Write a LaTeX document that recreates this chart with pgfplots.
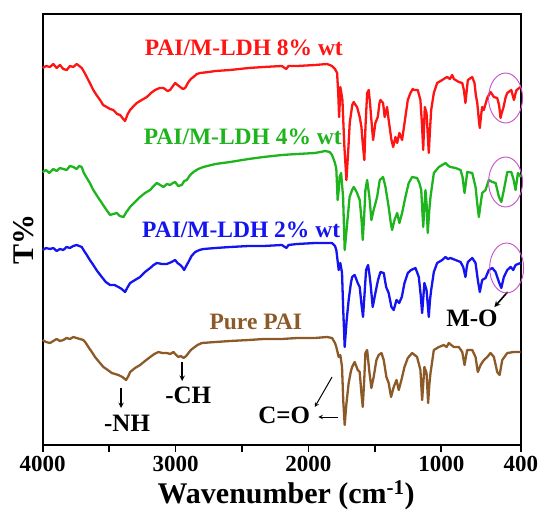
\documentclass[border=0pt]{standalone}
\usepackage{fontspec}
\setmainfont{Liberation Serif}
\usepackage{pgfplots}
\pgfplotsset{compat=1.18}
\usepackage{pgfplotstable}
\definecolor{cred}{RGB}{255,20,20}
\definecolor{cgreen}{RGB}{30,180,30}
\definecolor{cblue}{RGB}{20,20,240}
\definecolor{cbrown}{RGB}{140,90,40}
\definecolor{cmag}{RGB}{200,80,200}

\pgfplotstableread{
wn y
4000 377
3975 379
3945 378
3920 381
3895 377
3870 380
3845 376
3819 375
3795 379
3770 378
3744 381
3725 379
3706 377
3688 373
3668 368
3645 362
3619 355
3595 350
3568 345
3545 340
3518 338
3493 336
3468 335
3440 331
3417 330
3400 327
3380 324
3360 331
3342 335
3315 339
3292 342
3255 345
3216 348
3185 352
3154 355
3120 357
3091 357
3060 354
3041 355
3020 359
3003 362
2985 360
2965 358
2945 356
2928 357
2903 363
2885 366
2865 368
2840 371
2815 372
2750 373
2700 374
2589 375
2450 377
2338 378
2200 379
2167 376
2150 379
2086 379
1950 380
1860 381
1822 379
1800 376
1784 372
1775 350
1769 328
1763 345
1760 358
1752 352
1744 345
1730 300
1714 265
1700 295
1689 322
1670 340
1659 343
1645 340
1634 338
1614 328
1601 318
1590 300
1579 285
1570 320
1558 352
1546 355
1535 340
1528 328
1513 305
1496 322
1478 328
1465 342
1458 345
1438 342
1426 328
1408 338
1396 325
1375 305
1362 298
1345 308
1332 302
1315 312
1295 305
1270 328
1252 345
1232 352
1215 356
1202 355
1177 355
1157 345
1145 320
1136 295
1124 338
1111 332
1094 292
1085 315
1076 335
1056 352
1031 362
993 365
970 367
955 368
935 366
918 370
905 366
893 365
868 363
842 362
830 355
818 342
808 355
800 365
767 368
750 362
740 350
729 342
715 322
710 317
700 330
692 338
680 335
654 347
629 353
604 348
579 347
565 340
554 327
545 332
533 337
515 348
503 352
473 355
453 345
440 352
433 355
403 358
}\redtab

\pgfplotstableread{
wn y
4000 273
3975 275
3950 272
3920 276
3895 274
3870 277
3845 276
3820 275
3795 279
3769 278
3745 276
3725 279
3706 278
3690 272
3668 267
3645 262
3619 255
3590 249
3555 242
3525 236
3493 230
3470 231
3442 232
3420 229
3392 228
3370 233
3342 238
3305 243
3267 248
3230 252
3191 255
3165 259
3141 262
3115 260
3091 258
3065 261
3041 260
3020 262
3003 263
2980 259
2953 260
2935 264
2915 265
2890 270
2865 273
2830 276
2790 278
2700 281
2589 283
2450 286
2338 288
2200 290
2086 291
1950 292
1873 294
1840 293
1822 290
1800 282
1790 276
1780 245
1772 255
1765 268
1754 272
1739 248
1727 195
1715 212
1704 228
1690 248
1671 255
1659 258
1645 255
1634 252
1614 245
1600 225
1591 205
1580 230
1571 255
1558 265
1541 248
1526 225
1509 235
1495 242
1483 248
1463 265
1438 268
1420 258
1396 238
1380 222
1370 215
1352 225
1332 232
1315 222
1295 232
1270 248
1245 262
1219 268
1182 267
1165 262
1151 255
1136 218
1119 255
1110 240
1102 212
1090 235
1081 248
1056 272
1018 278
968 282
945 279
931 278
893 277
855 275
840 268
825 252
812 265
805 273
767 272
742 258
728 240
717 228
705 240
692 252
667 255
642 265
616 263
591 262
566 248
548 243
529 255
503 273
473 273
455 265
441 255
423 272
400 268
}\greentab

\pgfplotstableread{
wn y
4000 195
3975 197
3945 196
3920 197
3895 194
3870 196
3845 195
3820 198
3795 197
3770 199
3744 200
3725 199
3706 198
3688 194
3668 190
3645 185
3619 180
3590 174
3555 168
3525 163
3493 160
3460 160
3430 158
3405 156
3380 153
3360 158
3342 162
3305 165
3267 168
3230 173
3191 177
3165 180
3141 182
3100 181
3066 181
3030 183
3003 185
2985 182
2965 180
2950 178
2935 175
2920 179
2903 183
2880 189
2852 193
2820 195
2790 196
2700 197
2589 198
2450 199
2338 199
2200 200
2165 197
2150 200
2086 201
1950 202
1822 202
1800 199
1790 195
1772 175
1765 180
1760 182
1747 172
1738 135
1727 98
1712 125
1697 145
1680 162
1671 168
1652 170
1640 166
1629 162
1614 158
1600 140
1589 128
1578 150
1566 175
1551 180
1540 170
1533 162
1516 138
1496 152
1476 165
1458 173
1433 172
1415 158
1396 152
1375 138
1358 135
1337 145
1317 142
1297 148
1277 162
1252 172
1227 175
1194 177
1169 168
1155 150
1144 132
1127 162
1111 155
1094 128
1085 145
1076 155
1056 173
1031 182
993 185
968 188
950 186
931 187
893 185
855 183
835 178
818 168
808 178
800 183
767 187
742 182
725 165
710 153
692 165
667 167
642 175
616 177
591 173
566 163
548 157
529 168
503 175
478 178
458 175
441 180
403 182
}\bluetab

\pgfplotstableread{
wn y
4000 105
3975 103
3945 102
3920 104
3895 106
3870 104
3845 105
3820 107
3795 106
3769 108
3745 107
3720 106
3694 105
3675 102
3656 98
3630 93
3606 88
3575 83
3543 78
3510 75
3480 72
3455 71
3430 70
3400 68
3372 65
3355 69
3342 73
3305 77
3267 80
3230 84
3191 88
3160 91
3129 93
3100 92
3066 92
3040 91
3016 93
2995 90
2978 88
2960 89
2940 87
2920 89
2903 92
2885 95
2865 97
2835 100
2802 102
2700 103
2589 104
2450 105
2338 106
2200 106
2086 107
1950 107
1860 108
1822 107
1800 102
1790 98
1772 88
1765 89
1760 90
1747 78
1738 45
1727 20
1715 40
1697 62
1680 74
1671 78
1652 83
1640 79
1629 75
1614 73
1600 50
1591 38
1580 65
1571 92
1558 95
1541 73
1526 57
1509 68
1488 85
1471 90
1450 92
1433 85
1413 68
1396 62
1378 48
1358 58
1337 65
1320 55
1300 65
1277 78
1252 87
1219 92
1182 88
1157 75
1144 45
1127 78
1111 72
1099 42
1090 60
1081 72
1056 95
1018 98
981 100
960 98
943 102
925 100
905 98
868 98
842 93
825 80
812 90
805 95
767 95
742 88
725 73
704 80
679 85
654 88
629 92
604 88
579 73
561 70
541 85
503 92
453 93
403 93
}\browntab

\begin{document}
\begin{tikzpicture}
\useasboundingbox (-42.7pt,-67pt) rectangle (498.3pt,445pt);
\begin{axis}[
  at={(0pt,0pt)}, anchor=south west,
  scale only axis, width=478.3pt, height=431pt,
  xmin=400, xmax=4000, x dir=reverse,
  ymin=0, ymax=431,
  ytick=\empty,
  xtick={4000,3500,3000,2500,2000,1500,1000,400},
  xticklabels={4000,,3000,,2000,,1000,400},
  xtick pos=lower,
  tick align=outside,
  major tick length=7pt,
  axis line style={line width=1.8pt},
  tick style={line width=1.8pt, black},
  xticklabel style={font=\bfseries\fontsize{23}{23}\selectfont, yshift=-1pt},
  xlabel={Wavenumber (cm\textsuperscript{-1})},
  xlabel style={font=\bfseries\fontsize{30}{30}\selectfont, at={(axis description cs:0.509,-0.117)}, anchor=center},
  ylabel={T\%},
  ylabel style={font=\bfseries\fontsize{30}{30}\selectfont, at={(axis description cs:-0.039,0.476)}, anchor=center},
  clip=false,
  every axis plot/.append style={line width=2.3pt, line join=round},
]
\addplot[cred, no marks] table[x=wn, y=y] {\redtab};
\addplot[cgreen, no marks] table[x=wn, y=y] {\greentab};
\addplot[cblue, no marks] table[x=wn, y=y] {\bluetab};
\addplot[cbrown, no marks] table[x=wn, y=y] {\browntab};

\node[text=cred, font=\bfseries\fontsize{23.5}{24}\selectfont] at (axis cs:2486,397) {PAI/M-LDH 8\% wt};
\node[text=cgreen, font=\bfseries\fontsize{23.5}{24}\selectfont] at (axis cs:2494,308) {PAI/M-LDH 4\% wt};
\node[text=cblue, font=\bfseries\fontsize{23.5}{24}\selectfont] at (axis cs:2506,215) {PAI/M-LDH 2\% wt};
\node[text=cbrown, font=\bfseries\fontsize{23.5}{24}\selectfont] at (axis cs:2396,123) {Pure PAI};

\node[font=\bfseries\fontsize{25}{25}\selectfont] at (axis cs:3365,22) {-NH};
\draw[-stealth, line width=1.4pt] (axis cs:3410,57) -- (axis cs:3410,37);
\node[font=\bfseries\fontsize{25}{25}\selectfont] at (axis cs:2905,50) {-CH};
\draw[-stealth, line width=1.4pt] (axis cs:2950,83) -- (axis cs:2950,64);
\node[font=\bfseries\fontsize{25}{25}\selectfont] at (axis cs:2182,30) {C=O};
\draw[-stealth, line width=1pt] (axis cs:1822,68) -- (axis cs:1952,38);
\draw[-stealth, line width=1pt] (axis cs:1775,28) -- (axis cs:1925,28);
\node[font=\bfseries\fontsize{25}{25}\selectfont] at (axis cs:769,127) {M-O};
\draw[-stealth, line width=1.6pt] (axis cs:501,153) -- (axis cs:600,138);

\draw[cmag, line width=0.9pt] (axis cs:516,347) ellipse [x radius=17pt, y radius=25pt];
\draw[cmag, line width=0.9pt] (axis cs:516,263) ellipse [x radius=17pt, y radius=25pt];
\draw[cmag, line width=0.9pt] (axis cs:508,177) ellipse [x radius=17pt, y radius=25pt];
\end{axis}
\end{tikzpicture}
\end{document}
